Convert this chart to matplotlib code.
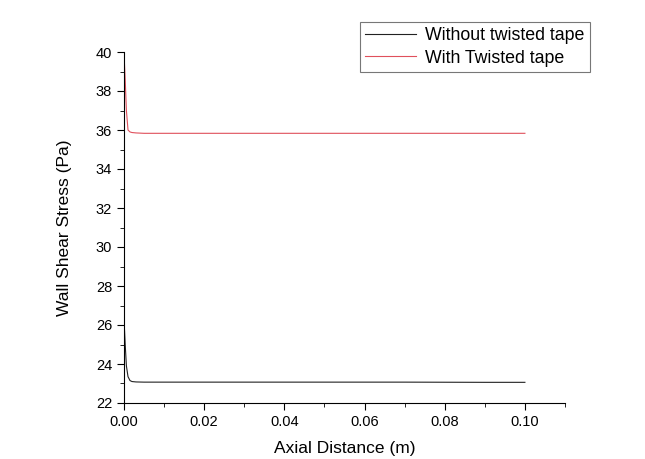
import numpy as np
import matplotlib.pyplot as plt
from matplotlib.ticker import MultipleLocator

# axial distance (m) and wall shear stress (Pa)
x_plain = [0.0, 0.0003, 0.0006, 0.001, 0.0015, 0.002, 0.003, 0.005, 0.01, 0.03, 0.05, 0.07, 0.09, 0.1]
wss_plain = [26.3, 25.0, 23.9, 23.35, 23.15, 23.1, 23.08, 23.07, 23.07, 23.07, 23.07, 23.07, 23.06, 23.06]

x_tape = [0.0, 0.0003, 0.0006, 0.001, 0.0015, 0.002, 0.003, 0.005, 0.01, 0.03, 0.05, 0.07, 0.09, 0.1]
wss_tape = [39.9, 38.6, 37.0, 36.0, 35.9, 35.87, 35.85, 35.83, 35.83, 35.83, 35.83, 35.83, 35.83, 35.83]

plt.rcParams['font.family'] = ['Liberation Sans', 'DejaVu Sans']

fig = plt.figure(figsize=(6.45, 4.59), dpi=100)
ax = fig.add_axes([124/645, 1 - 403/459, (565-124)/645, (403-52)/459])

ax.plot(x_plain, wss_plain, color='#222222', lw=0.8, label='Without twisted tape')
ax.plot(x_tape, wss_tape, color='#e0505c', lw=0.8, label='With Twisted tape')

ax.set_xlim(0, 0.11)
ax.set_ylim(22, 40)
ax.xaxis.set_major_locator(MultipleLocator(0.02))
ax.xaxis.set_minor_locator(MultipleLocator(0.01))
ax.yaxis.set_major_locator(MultipleLocator(2))
ax.yaxis.set_minor_locator(MultipleLocator(1))
ax.set_xticks([0, 0.02, 0.04, 0.06, 0.08, 0.10])
ax.set_xticklabels(['0.00', '0.02', '0.04', '0.06', '0.08', '0.10'])
ax.tick_params(which='major', length=5, labelsize=10.5, direction='out')
ax.tick_params(which='minor', length=3, direction='out')

ax.spines['top'].set_visible(False)
ax.spines['right'].set_visible(False)

ax.set_xlabel('Axial Distance (m)', fontsize=12.5, labelpad=9)
ax.set_ylabel('Wall Shear Stress (Pa)', fontsize=12.5, labelpad=17)

leg = ax.legend(loc='upper right', bbox_to_anchor=(590/645, 1 - 22/459), bbox_transform=fig.transFigure,
                fontsize=12.8, frameon=True, fancybox=False, edgecolor='#555555',
                handlelength=2.9, borderpad=0.3, labelspacing=0.3, handletextpad=0.5,
                borderaxespad=0)
leg.get_frame().set_linewidth(0.8)

fig.savefig('out.png', dpi=100)
